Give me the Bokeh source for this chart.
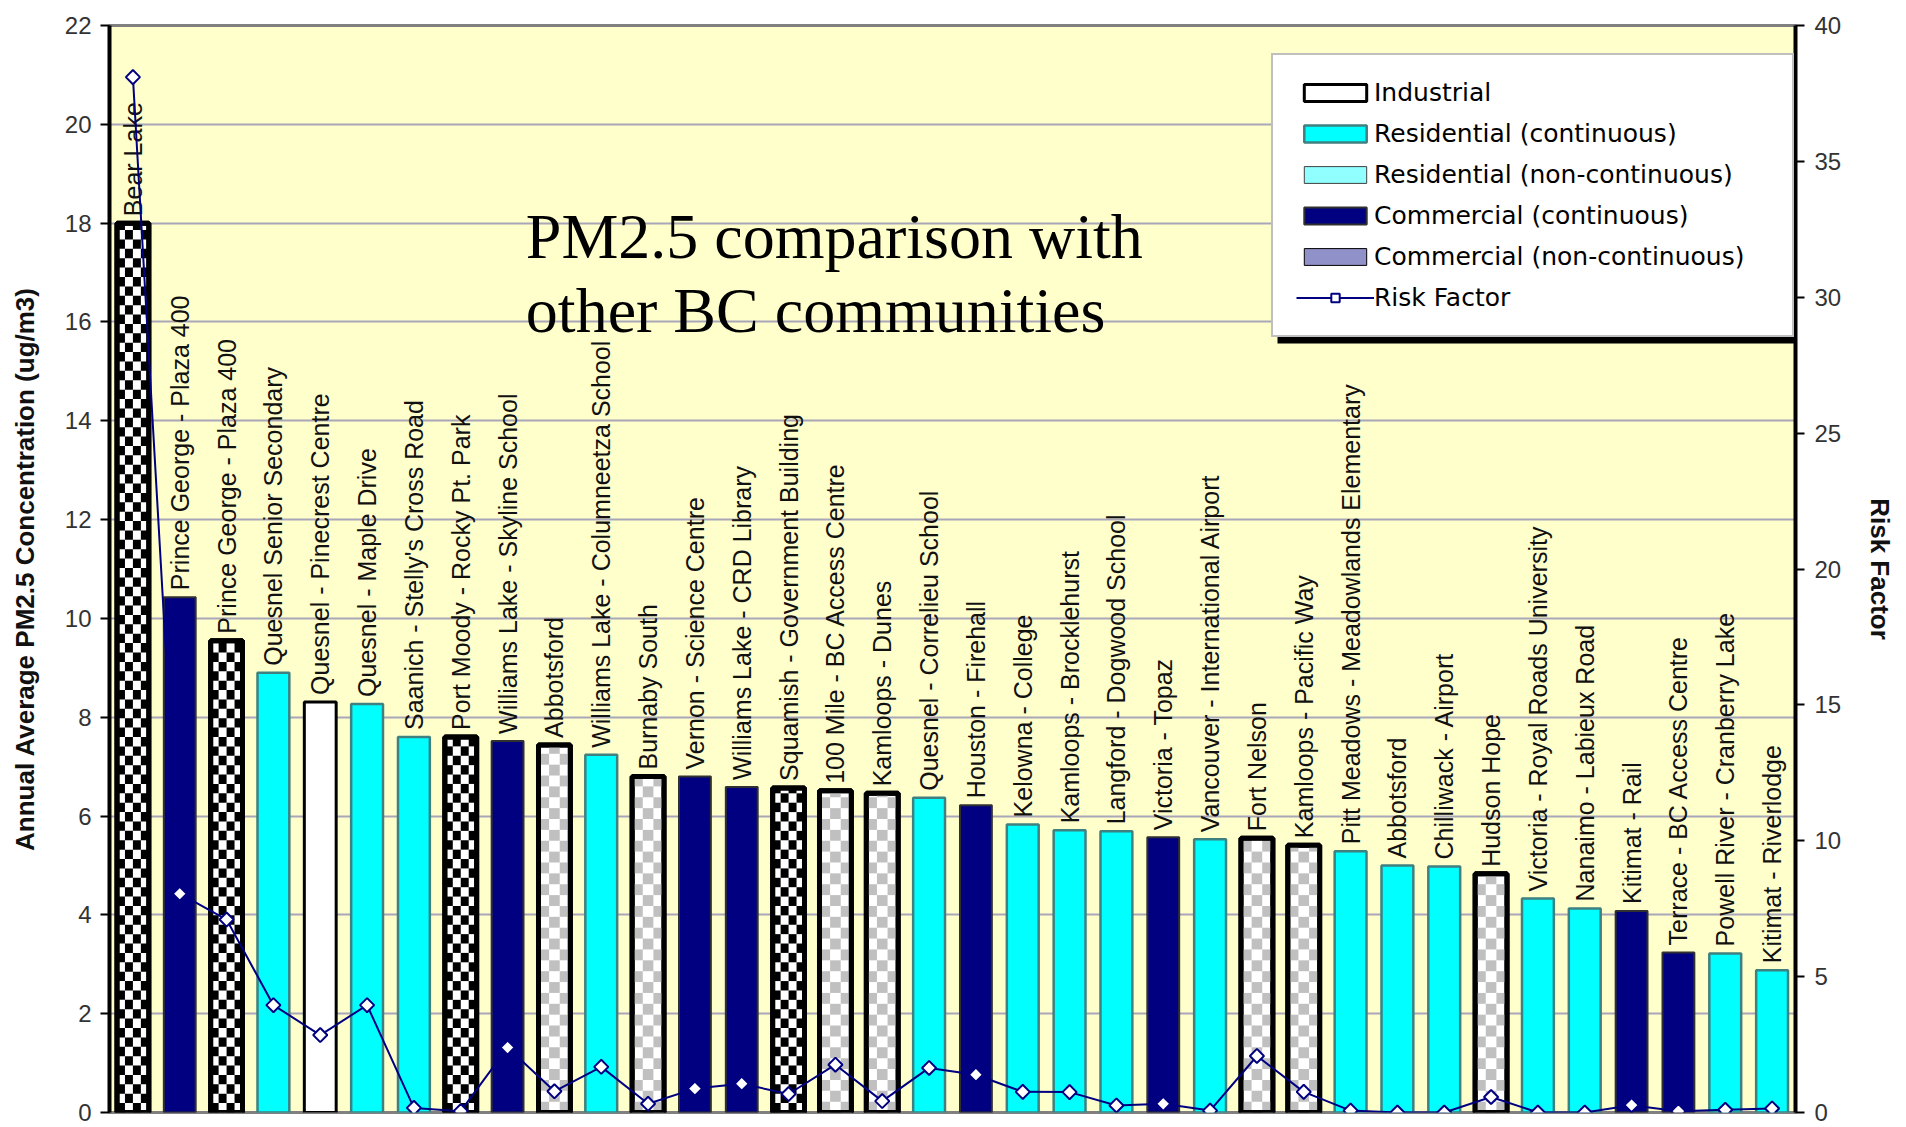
import math
from bokeh.plotting import figure
from bokeh.models import (ColumnDataSource, Range1d, LinearAxis, SingleIntervalTicker,
                          Legend, LegendItem, Label, BoxAnnotation, CanvasTexture)
from bokeh.core.properties import value
from bokeh.embed import file_html
from bokeh.resources import INLINE

# ---------------- data ----------------
sites = [
    "Bear Lake",
    "Prince George - Plaza 400",
    "Prince George - Plaza 400",
    "Quesnel Senior Secondary",
    "Quesnel - Pinecrest Centre",
    "Quesnel - Maple Drive",
    "Saanich - Stelly's Cross Road",
    "Port Moody - Rocky Pt. Park",
    "Williams Lake - Skyline School",
    "Abbotsford",
    "Williams Lake - Columneetza School",
    "Burnaby South",
    "Vernon - Science Centre",
    "Williams Lake - CRD Library",
    "Squamish - Government Building",
    "100 Mile - BC Access Centre",
    "Kamloops - Dunes",
    "Quesnel - Correlieu School",
    "Houston - Firehall",
    "Kelowna - College",
    "Kamloops - Brocklehurst",
    "Langford - Dogwood School",
    "Victoria - Topaz",
    "Vancouver - International Airport",
    "Fort Nelson",
    "Kamloops - Pacific Way",
    "Pitt Meadows - Meadowlands Elementary",
    "Abbotsford",
    "Chilliwack - Airport",
    "Hudson Hope",
    "Victoria - Royal Roads University",
    "Nanaimo - Labieux Road",
    "Kitimat - Rail",
    "Terrace - BC Access Centre",
    "Powell River - Cranberry Lake",
    "Kitimat - Riverlodge",
]

pm25 = [18.0, 10.43, 9.55, 8.9, 8.31, 8.27, 7.6, 7.6, 7.52, 7.44,
        7.24, 6.8, 6.8, 6.59, 6.57, 6.51, 6.46, 6.37, 6.22, 5.83,
        5.71, 5.69, 5.57, 5.53, 5.55, 5.41, 5.29, 5.0, 4.98, 4.83,
        4.33, 4.13, 4.08, 3.24, 3.22, 2.88]

risk = [38.1, 8.05, 7.1, 3.95, 2.85, 3.95, 0.17, 0.05, 2.39, 0.78,
        1.68, 0.32, 0.88, 1.06, 0.68, 1.76, 0.42, 1.64, 1.39, 0.76,
        0.75, 0.26, 0.32, 0.07, 2.08, 0.76, 0.07, 0.0, 0.0, 0.57,
        0.0, 0.0, 0.27, 0.05, 0.1, 0.15]

# IND industrial, RC residential continuous, RN residential non-continuous,
# CC commercial continuous, CN commercial non-continuous
site_type = ["CN", "CC", "CN", "RC", "IND", "RC", "RC", "CN", "CC", "RN",
             "RC", "RN", "CC", "CC", "CN", "RN", "RN", "RC", "CC", "RC",
             "RC", "RC", "CC", "RC", "RN", "RN", "RC", "RC", "RC", "RN",
             "RC", "RC", "CC", "CC", "RC", "RC"]

type_labels = {
    "IND": "Industrial",
    "RC": "Residential (continuous)",
    "RN": "Residential (non-continuous)",
    "CC": "Commercial (continuous)",
    "CN": "Commercial (non-continuous)",
}

# ---------------- styles ----------------
def checker_tex(color):
    return CanvasTexture(code=(
        "var h = scale / 2;"
        "ctx.fillStyle = '%s';"
        "ctx.fillRect(0, 0, h, h);"
        "ctx.fillRect(h, h, h, h);" % color))

STYLE = {
    "IND": dict(fill_color="white", line_color="black", line_width=3),
    "RC": dict(fill_color="#00FFFF", line_color="#3f8080", line_width=2.5),
    "RN": dict(fill_color="white", line_color="black", line_width=5),
    "CC": dict(fill_color="#000080", line_color="#303030", line_width=2),
    "CN": dict(fill_color="white", line_color="black", line_width=5),
}
# checker cells: (colour, columns across a bar, cell height in axis units)
CHECKER = {"CN": ("black", 4, 0.19), "RN": ("#C0C0C0", 3, 0.22)}

BAR_W = 0.68
n = len(sites)
xs = [i + 0.5 for i in range(n)]

# ---------------- figure ----------------
p = figure(width=1898, height=1127, output_backend="svg", toolbar_location=None,
           x_range=Range1d(0, n), y_range=Range1d(0, 22),
           min_border_left=109, min_border_right=100, min_border_top=25, min_border_bottom=15)
p.extra_y_ranges = {"risk": Range1d(0, 40)}

p.background_fill_color = "#FFFFCC"
p.border_fill_color = "white"
p.outline_line_color = "#808080"
p.outline_line_width = 3

p.xaxis.visible = False
p.xgrid.visible = False
p.ygrid.grid_line_color = "#A9A6B8"
p.ygrid.grid_line_width = 2

SANS = "Liberation Sans"

yax = p.yaxis[0]
yax.ticker = SingleIntervalTicker(interval=2, num_minor_ticks=0)
yax.axis_label = "Annual Average PM2.5 Concentration (ug/m3)"

rax = LinearAxis(y_range_name="risk", axis_label="Risk Factor",
                 ticker=SingleIntervalTicker(interval=5, num_minor_ticks=0))
p.add_layout(rax, "right")

for ax, standoff in ((yax, 9), (rax, 10)):
    ax.axis_line_color = "black"
    ax.axis_line_width = 4
    ax.major_tick_line_color = "black"
    ax.major_tick_line_width = 2
    ax.major_tick_out = 9
    ax.major_tick_in = 0
    ax.minor_tick_line_color = None
    ax.major_label_text_font = SANS
    ax.major_label_text_font_size = "24px"
    ax.major_label_text_color = "#333333"
    ax.major_label_standoff = standoff
    ax.axis_label_text_font = SANS
    ax.axis_label_text_font_size = "26px"
    ax.axis_label_text_font_style = "bold"
    ax.axis_label_text_color = "#111111"
yax.axis_label_standoff = 22
rax.axis_label_standoff = 21

# ---------------- bars ----------------
renderers = {}
for code in ["CN", "CC", "RC", "IND", "RN"]:
    idx = [i for i in range(n) if site_type[i] == code]
    src = ColumnDataSource(dict(x=[xs[i] for i in idx], top=[pm25[i] for i in idx]))
    renderers[code] = p.vbar(x="x", top="top", bottom=0, width=BAR_W, source=src, **STYLE[code])
    if code in CHECKER:
        color, cols, dy = CHECKER[code]
        L, R, B, T = [], [], [], []
        for i in idx:
            x0 = xs[i] - BAR_W / 2
            dx = BAR_W / cols
            for r in range(int(math.ceil(pm25[i] / dy))):
                for c in range(cols):
                    if (r + c) % 2 == 0:
                        L.append(x0 + c * dx)
                        R.append(x0 + (c + 1) * dx)
                        B.append(r * dy)
                        T.append(min((r + 1) * dy, pm25[i]))
        p.quad(left=L, right=R, bottom=B, top=T, fill_color=color, line_color=None)
        # outline again on top of the cells
        p.vbar(x="x", top="top", bottom=0, width=BAR_W, source=src, fill_color=None,
               line_color=STYLE[code]["line_color"], line_width=STYLE[code]["line_width"])

# legend-only swatches (the legend shows coloured checkers)
dummy_src = ColumnDataSource(dict(x=[0.5], top=[0.0]))
leg_rn = p.vbar(x="x", top="top", bottom=0, width=BAR_W, source=dummy_src, visible=False,
                fill_color="white", line_color="#404040", line_width=1,
                hatch_pattern=value("chk_cyan"), hatch_extra={"chk_cyan": checker_tex("#00ffff")},
                hatch_scale=10)
leg_cn = p.vbar(x="x", top="top", bottom=0, width=BAR_W, source=dummy_src, visible=False,
                fill_color="white", line_color="black", line_width=1,
                hatch_pattern=value("chk_navy"), hatch_extra={"chk_navy": checker_tex("#000080")},
                hatch_scale=10)

# ---------------- site labels ----------------
lab_src = ColumnDataSource(dict(x=xs, y=pm25, name=sites))
p.text(x="x", y="y", text="name", source=lab_src, angle=1.5707963,
       text_align="left", text_baseline="middle", y_offset=-7,
       text_font=value(SANS), text_font_size="25px", text_color="#111111")

# ---------------- risk line ----------------
risk_src = ColumnDataSource(dict(x=xs, risk=risk))
r_line = p.line(x="x", y="risk", source=risk_src, y_range_name="risk",
                line_color="#000080", line_width=2)
r_pts = p.scatter(x="x", y="risk", source=risk_src, y_range_name="risk", marker="square",
                  angle=0.7853982, size=10, fill_color="white", line_color="#000080",
                  line_width=2)

# ---------------- title ----------------
for txt, yy in (("PM2.5 comparison with", 17.72), ("other BC communities", 16.23)):
    p.add_layout(Label(x=8.89, y=yy, text=txt, text_font="Liberation Serif",
                       text_font_size="64px", text_color="black",
                       text_baseline="alphabetic", text_align="left"))

# ---------------- legend ----------------
LX, LY = 1162, 775      # bottom-left of legend box, px from frame bottom-left
LW, LH = 519, 281
p.add_layout(BoxAnnotation(left=LX + 6, right=LX + LW + 6, bottom=LY - 6, top=LY + LH - 6,
                           left_units="screen", right_units="screen",
                           bottom_units="screen", top_units="screen",
                           fill_color="black", fill_alpha=1.0, line_color=None))

legend = Legend(items=[
    LegendItem(label=type_labels["IND"], renderers=[renderers["IND"]]),
    LegendItem(label=type_labels["RC"], renderers=[renderers["RC"]]),
    LegendItem(label=type_labels["RN"], renderers=[leg_rn]),
    LegendItem(label=type_labels["CC"], renderers=[renderers["CC"]]),
    LegendItem(label=type_labels["CN"], renderers=[leg_cn]),
    LegendItem(label="Risk Factor", renderers=[r_line, r_pts]),
], location=(LX, LY))
legend.margin = 0
legend.padding = 23
legend.spacing = 12
legend.glyph_width = 78
legend.glyph_height = 21
legend.label_standoff = 0
legend.label_width = 395
legend.label_height = 29
legend.label_text_font = "DejaVu Sans"
legend.label_text_font_size = "25px"
legend.label_text_color = "black"
legend.background_fill_color = "white"
legend.background_fill_alpha = 1.0
legend.border_line_color = "#808080"
legend.border_line_width = 2
p.add_layout(legend)

open("out.html", "w").write(file_html(p, INLINE))
